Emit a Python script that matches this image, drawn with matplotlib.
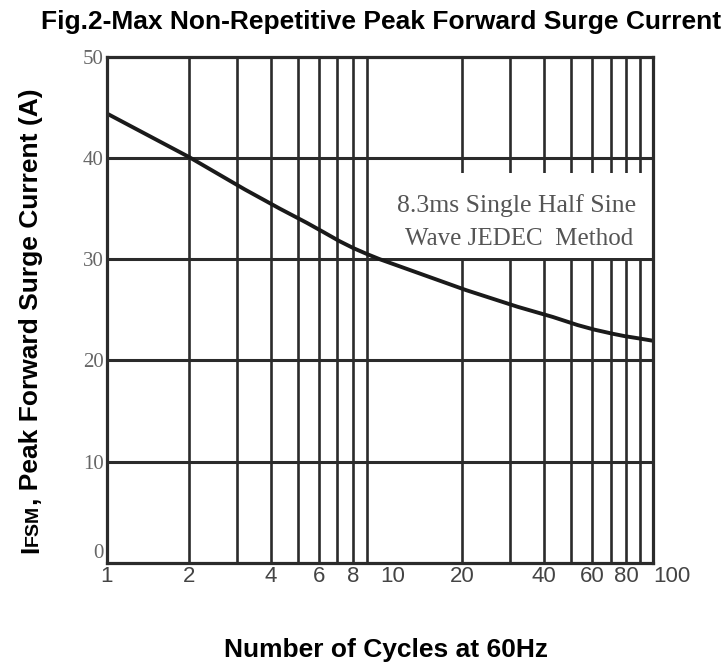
import matplotlib
matplotlib.use("Agg")
import matplotlib.pyplot as plt
from matplotlib.patches import Rectangle
from matplotlib.ticker import FixedLocator, NullFormatter

# surge curve (cycles, amps)
cycles = [1, 2.0, 3.2, 4.3, 5.4, 6.2, 7.1, 8.0, 9.0, 10, 20.7, 32, 43, 53, 61, 71, 79, 88, 100]
ifsm = [44.4, 40.1, 36.9, 35.0, 33.6, 32.7, 31.8, 31.1, 30.5, 30.0, 26.95, 25.3, 24.3, 23.5,
        23.05, 22.65, 22.4, 22.2, 21.95]

xtick_vals = [1, 2, 4, 6, 8, 10, 20, 40, 60, 80, 100]
xtick_labels = ["1", "2", "4", "6", "8", "10", "20", "40", "60", "80", "100"]
ytick_vals = [0, 10, 20, 30, 40, 50]
minor_vals = [2, 3, 4, 5, 6, 7, 8, 9, 20, 30, 40, 50, 60, 70, 80, 90]

fig = plt.figure(figsize=(7.27, 6.65), dpi=100)
ax = fig.add_axes([0.1468, 0.1534, 0.7512, 0.7613])
ax.set_xscale("log")
ax.set_xlim(1, 100)
ax.set_ylim(0, 50)

dark = "#2b2b2b"
for v in minor_vals:
    ax.axvline(v, color=dark, lw=1.9, zorder=1)
for v in ytick_vals[1:-1]:
    ax.axhline(v, color=dark, lw=2.2, zorder=1)

# white label box over the grid
ax.add_patch(Rectangle((10.3, 30.1), 89.0, 8.4, facecolor="white",
                       edgecolor="none", zorder=2))
ax.text(31.7, 35.3, "8.3ms Single Half Sine", ha="center", va="center",
        fontsize=18.5, family="Liberation Serif", color="#555555", zorder=3)
ax.text(32.4, 32.0, "Wave JEDEC  Method", ha="center", va="center",
        fontsize=18, family="Liberation Serif", color="#555555", zorder=3)

ax.plot(cycles, ifsm, color="#1a1a1a", lw=2.8, zorder=4)

for s in ax.spines.values():
    s.set_linewidth(2.3)
    s.set_color(dark)
    s.set_zorder(5)

ax.xaxis.set_major_locator(FixedLocator(xtick_vals))
ax.xaxis.set_minor_locator(FixedLocator([]))
ax.xaxis.set_minor_formatter(NullFormatter())
ax.set_xticks(xtick_vals)
ax.set_xticklabels(xtick_labels, family="Liberation Sans",
                   fontsize=16, color="#444444")
xl = ax.get_xticklabels()
xl[5].set_ha("left")
xl[-1].set_ha("left")
ax.set_yticks(ytick_vals)
ax.set_yticklabels([str(v) for v in ytick_vals], family="Liberation Serif",
                   fontsize=15, color="#666666")
# the "0" sits a little above the bottom line in the original
ax.get_yticklabels()[0].set_va("bottom")
ax.tick_params(axis="both", length=0)
ax.tick_params(axis="x", pad=2)
ax.tick_params(axis="y", pad=2)

fig.text(0.524, 0.967, "Fig.2-Max Non-Repetitive Peak Forward Surge Current",
         ha="center", va="center", fontsize=19, fontweight="bold",
         family="Liberation Sans")
fig.text(0.531, 0.022, "Number of Cycles at 60Hz", ha="center", va="center",
         fontsize=19, fontweight="bold", family="Liberation Sans")

# y label with small-caps "FSM", placed piece by piece along the baseline
renderer = fig.canvas.get_renderer()
ypos = 1 - 553 / 665
for piece, size in [("I", 19), ("FSM", 14), (", Peak Forward Surge Current (A)", 19)]:
    t = fig.text(0.052, ypos, piece, rotation=90, rotation_mode="anchor",
                 ha="left", va="baseline", fontsize=size, fontweight="bold",
                 family="Liberation Sans")
    bb = t.get_window_extent(renderer)
    ypos = bb.y1 / fig.bbox.height

fig.savefig("out.png", dpi=100)
